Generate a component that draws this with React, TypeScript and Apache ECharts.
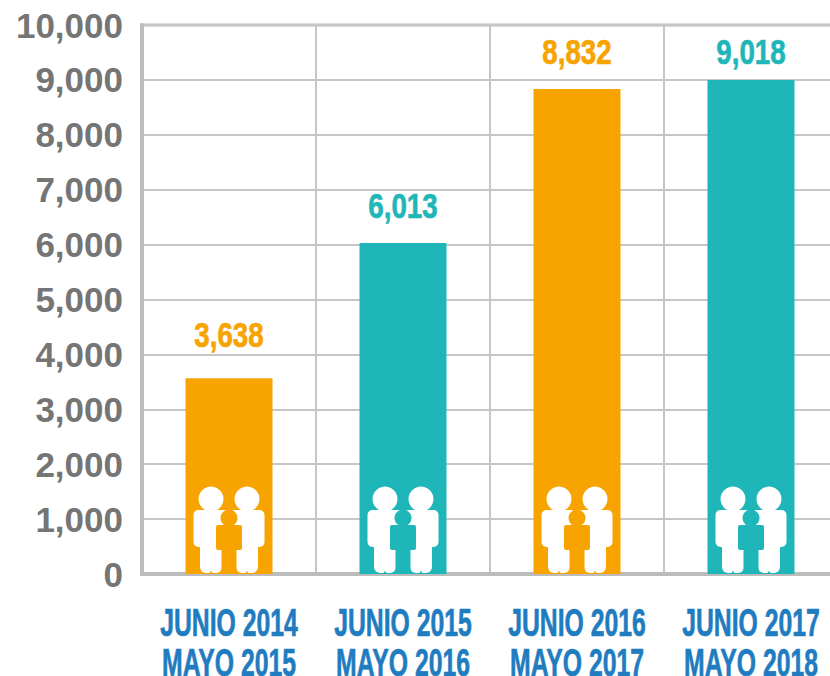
import React, { useEffect, useRef } from "react";
import * as echarts from "echarts";

const periodStarts = ["JUNIO 2014", "JUNIO 2015", "JUNIO 2016", "JUNIO 2017"];
const periodEnds = ["MAYO 2015", "MAYO 2016", "MAYO 2017", "MAYO 2018"];
const categories = periodStarts.map((s, i) => s + "\n" + periodEnds[i]);
// Bar heights as they are drawn in the picture
const barHeights = [3565, 6030, 8835, 9000];
// Values as they are printed above the bars
const printedValues = ["3,638", "6,013", "8,832", "9,018"];
// Height on the value scale at which each printed value sits
const printedLevels = [4365, 6700, 9510, 9510];
const barColors = ["#f7a400", "#1fb6b9", "#f7a400", "#1fb6b9"];

const GRID = "#c6c6c6";
const FRAME = "#bcbcbc";
const BLUE = "#1f7cc0";
const NARROW = "'Liberation Sans Narrow', 'Liberation Sans', sans-serif";

const rr = (x: number, y: number, w: number, h: number, r: number, fill: string) => ({
  type: "rect",
  shape: { x, y, width: w, height: h, r },
  style: { fill },
});

const person = (dx: number, color: string): any[] => [
  { type: "circle", shape: { cx: dx, cy: -75, r: 12.5 }, style: { fill: "#fff" } },
  rr(dx - 17.5, -64, 35, 37, 5, "#fff"),
  rr(dx - 11, -60, 22, 59, 6, "#fff"),
  {
    type: "polygon",
    shape: { points: [[dx - 2.5, 0], [dx, -3], [dx + 2.5, 0]] },
    style: { fill: color },
  },
];

const family = (x: number, y: number, color: string) => ({
  type: "group",
  x,
  y,
  silent: true,
  children: [
    ...person(-18, color),
    ...person(18, color),
    { type: "circle", shape: { cx: 0, cy: -56, r: 8.5 }, style: { fill: color } },
    rr(-13, -49, 26, 25, 2, color),
    rr(-7.5, -49, 15, 49, 0, color),
  ],
});

export default function App() {
  const ref = useRef<HTMLDivElement>(null);
  useEffect(() => {
    document.body.style.margin = "0";
    const chart = echarts.init(ref.current!, undefined, { renderer: "svg" });
    chart.setOption({
      animation: false,
      backgroundColor: "#fff",
      grid: {
        show: true,
        left: 142,
        top: 25,
        width: 696,
        height: 549,
        outerBoundsMode: "none",
        borderColor: FRAME,
        borderWidth: 3,
        containLabel: false,
      },
      xAxis: {
        type: "category",
        data: categories,
        axisTick: { show: false },
        axisLabel: { show: false },
        axisLine: { show: true, lineStyle: { color: FRAME, width: 4 } },
        splitLine: { show: true, lineStyle: { color: GRID, width: 2 } },
      },
      yAxis: {
        type: "value",
        min: 0,
        max: 10000,
        interval: 1000,
        axisTick: { show: false },
        axisLine: { show: true, lineStyle: { color: FRAME, width: 4 } },
        axisLabel: {
          margin: 19,
          color: "#757575",
          fontSize: 35,
          fontWeight: "bold",
          fontFamily: "'Liberation Sans', Arial, sans-serif",
          formatter: (v: number) => v.toLocaleString("en-US"),
        },
        splitLine: { show: true, lineStyle: { color: GRID, width: 2 } },
      },
      series: [
        {
          type: "bar",
          barWidth: 87,
          data: barHeights.map((v, i) => ({ value: v, itemStyle: { color: barColors[i] } })),
          z: 2,
        },
        {
          type: "custom",
          z: 3,
          silent: true,
          clip: false,
          data: categories.map((c, i) => [i, printedLevels[i]]),
          renderItem: (params: any, api: any) => {
            const i = api.value(0);
            const [x, y] = api.coord([i, api.value(1)]);
            const [, base] = api.coord([i, 0]);
            const narrowText = (text: string, ty: number, size: number, fill: string, sx: number) => ({
              type: "text",
              x,
              y: ty,
              scaleX: sx,
              style: {
                text,
                fontSize: size,
                lineHeight: 28,
                fontWeight: "bold",
                fontFamily: NARROW,
                fill,
                stroke: fill,
                lineWidth: 0.7,
                align: "center",
                verticalAlign: "middle",
              },
            });
            return {
              type: "group",
              children: [
                family(x, base, barColors[i]),
                narrowText(printedValues[i], y, 36, barColors[i], 0.77),
                narrowText(periodStarts[i], base + 48, 39, BLUE, 0.635),
                narrowText(periodEnds[i], base + 88, 39, BLUE, 0.635),
              ],
            };
          },
        },
      ],
    });
    return () => chart.dispose();
  }, []);
  return <div ref={ref} style={{ width: 830, height: 676, position: "absolute", left: 0, top: 0 }} />;
}
